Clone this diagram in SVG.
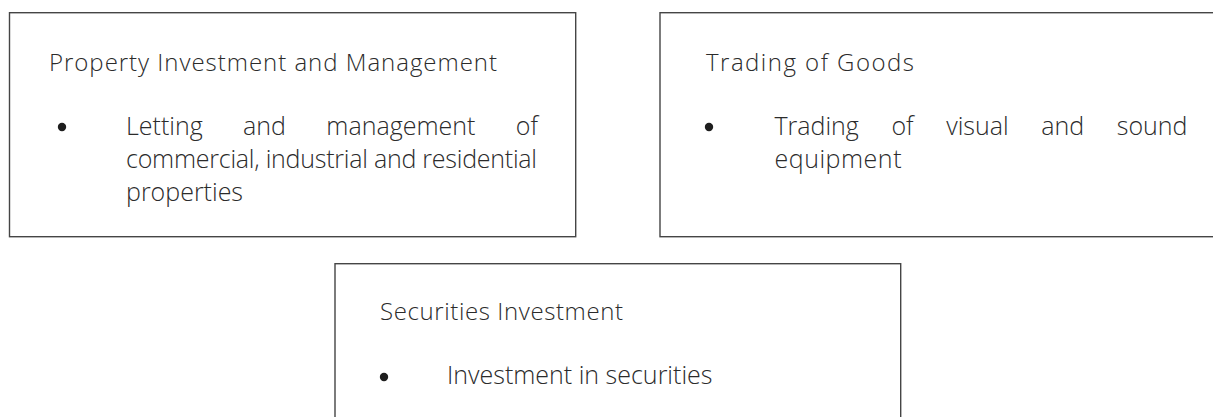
<svg xmlns="http://www.w3.org/2000/svg" width="1213" height="417" viewBox="0 0 1213 417">
<style>
.box{fill:#fff;stroke:#454545;stroke-width:1.4}
.t{font-family:"Open Sans","Liberation Sans",sans-serif;font-weight:300;font-size:24px;fill:#2b2b2b}
.b{font-size:25px}
.dot{fill:#1e1e1e}
</style>
<rect width="1213" height="417" fill="#fff"/>
<g id="connectors"></g>
<g id="node-property">
<rect class="box" x="9.5" y="12.7" width="566.2" height="224"/>
<text class="t" x="49" y="71" textLength="448" lengthAdjust="spacing">Property Investment and Management</text>
<circle class="dot" cx="62" cy="127" r="4.2"/>
<text class="t b" x="126" y="135" word-spacing="33.9">Letting and management of</text>
<text class="t b" x="126" y="168" textLength="411" lengthAdjust="spacing">commercial, industrial and residential</text>
<text class="t b" x="126" y="201">properties</text>
</g>
<g id="node-trading">
<rect class="box" x="660" y="12.7" width="580" height="224"/>
<text class="t" x="706" y="71" textLength="208" lengthAdjust="spacing">Trading of Goods</text>
<circle class="dot" cx="709" cy="127" r="4.2"/>
<text class="t b" x="774.5" y="135" word-spacing="26.1">Trading of visual and sound</text>
<text class="t b" x="774.5" y="168" textLength="127" lengthAdjust="spacing">equipment</text>
</g>
<g id="node-securities">
<rect class="box" x="335" y="263.7" width="565.7" height="180"/>
<text class="t" x="380" y="320" textLength="243" lengthAdjust="spacing">Securities Investment</text>
<circle class="dot" cx="384" cy="377" r="4.2"/>
<text class="t b" x="447" y="384">Investment in securities</text>
</g>
</svg>
